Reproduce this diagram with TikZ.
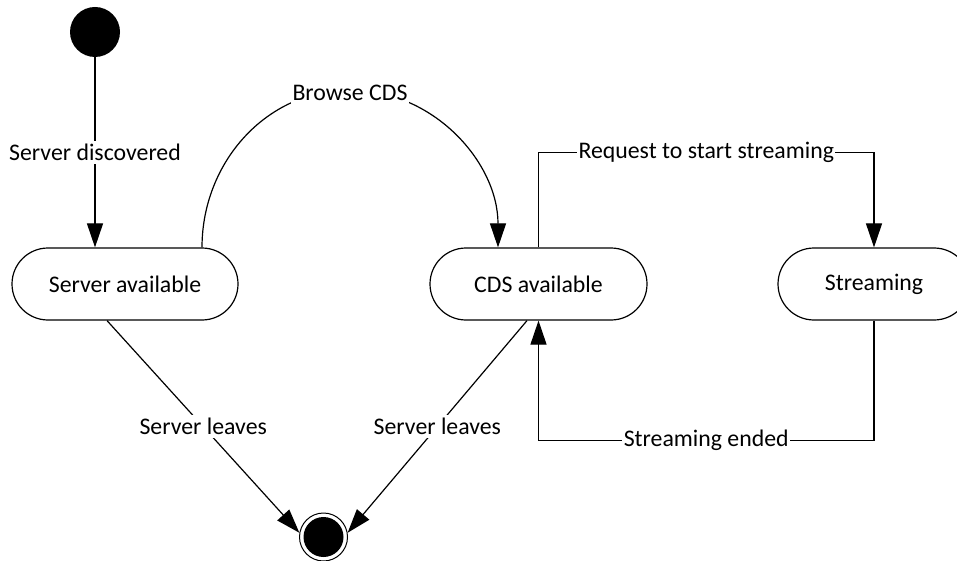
\documentclass[tikz,border=0pt]{standalone}
\usepackage{fontspec}
\setmainfont{Carlito}
\usetikzlibrary{arrows.meta}
\tikzset{
  ln/.style={line width=1.2pt},
  arr/.style={ln, -{Triangle[length=24pt,width=16pt]}},
  statebox/.style={draw, ln, rectangle, rounded corners=36pt, minimum height=72pt, inner sep=0pt, font=\fontsize{23.8}{28}\selectfont},
  lab/.style={fill=white, inner xsep=1.5pt, inner ysep=3pt, font=\fontsize{23.8}{28}\selectfont},
  initstate/.style={circle, fill=black, minimum size=50pt, inner sep=0pt},
  finouter/.style={circle, draw, line width=1pt, fill=white, minimum size=48pt, inner sep=0pt},
  fininner/.style={circle, fill=black, minimum size=40pt, inner sep=0pt}
}
\begin{document}
\begin{tikzpicture}[x=1pt, y=-1pt]
\useasboundingbox (0,0) rectangle (957,561);
\node[initstate] (init) at (95,32) {};
\node[statebox, minimum width=226pt] (sa) at (125,284) {Server available};
\node[statebox, minimum width=217pt] (cds) at (538.5,284) {CDS available};
\node[statebox, minimum width=192pt] (str) at (874,284) {Streaming};
\node[finouter] (fin) at (323.5,537) {};
\node[fininner] (finin) at (fin.center) {};

% initial -> server available
\draw[arr] (init.south) -- node[lab] {Server discovered} (init.south |- sa.north);

% browse CDS
\coordinate (btop) at (350,90);
\draw[arr] ([xshift=77pt]sa.north) to[out=90,in=180] (btop) to[out=0,in=90] ([xshift=-40.5pt]cds.north);
\node[lab] (browse) at (350,93) {Browse CDS};

% request to start streaming
\draw[arr] (cds.north) -- ++(0,-95) -| node[lab,pos=0.25] {Request to start streaming} (str.north);

% streaming ended
\draw[arr] (str.south) -- ++(0,120) -| node[lab,pos=0.25] {Streaming ended} (cds.south);

% server leaves
\draw[arr] ([xshift=-18pt]sa.south) -- node[lab] {Server leaves} (fin.170);
\draw[arr] ([xshift=-11.5pt]cds.south) -- node[lab] {Server leaves} (fin.10);
\end{tikzpicture}
\end{document}
